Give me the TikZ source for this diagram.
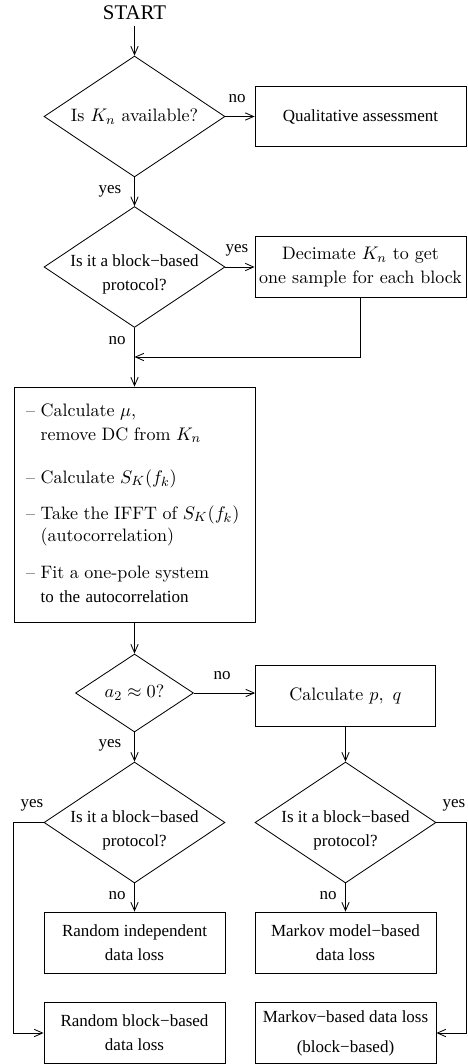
\documentclass[tikz,border=0pt]{standalone}
\usepackage{fontspec}
\newfontfamily\tms{Liberation Serif}
\usetikzlibrary{arrows.meta,shapes.geometric}
\newcommand\tmsz{\tms\fontsize{10.2}{14.5}\selectfont}
\newcommand\cmsz{\fontsize{10.8}{14}\selectfont}

\begin{document}
\begin{tikzpicture}[x=0.6pt,y=-0.6pt,line width=0.5pt,
  arr/.style={-{Straight Barb[length=5pt,width=4.4pt]}},
  box/.style={draw,inner sep=0pt,align=center,minimum width=108.6pt,minimum height=36.3pt},
  decision/.style={draw,diamond,inner sep=0pt,minimum width=108.6pt,minimum height=72.6pt},
  qtext/.style={font=\tmsz,align=center,inner sep=0pt},
  lbl/.style={font=\tmsz,inner sep=1pt}]
\useasboundingbox (0,0) rectangle (468,1064);
\node[font=\tms\fontsize{12.5}{14}\selectfont] (start) at (134.5,13) {START};
% first checks
\node[decision] (q1) at (134.5,116.5) {};
\node[font=\cmsz,inner sep=0pt] (q1t) at (q1.center) {Is $K_n$ available?};
\node[box,font=\tmsz,minimum width=126.6pt] (qual) at (360.5,116.5) {Qualitative assessment};
\node[decision] (q2) at (134.5,267) {};
\node[qtext] (q2t) at ([yshift=-4.5pt]q2.center) {Is it a block−based\\protocol?};
\node[box,font=\cmsz,minimum width=126.6pt] (dec) at (360.5,267) {Decimate $K_n$ to get\\one sample for each block};
\coordinate (join) at (134.5,357);
% processing steps
\node[box,minimum width=144.6pt,minimum height=141pt,text width=130.2pt,align=left] (calc) at (134.5,504.5) {\cmsz
\begin{tabular}{@{}l@{}}
– Calculate $\mu$,\\[0.4pt]
\phantom{–} remove DC from $K_n$\\[11.8pt]
– Calculate $S_K(f_k)$\\[7.6pt]
– Take the IFFT of $S_K(f_k)$\\[-0.8pt]
\phantom{–} (autocorrelation)\\[8.2pt]
– Fit a one-pole system\\[0.4pt]
\phantom{–} {\tmsz to the autocorrelation}
\end{tabular}};
\node[decision,minimum width=70.8pt,minimum height=46.8pt] (q3) at (134.5,693) {};
\node[font=\cmsz,inner sep=0pt] (q3t) at (q3.center) {$a_2\approx 0$?};
\node[box,font=\cmsz,minimum width=108pt,minimum height=36.6pt] (pq) at (345.5,695.5) {Calculate $p,\ q$};
% second checks
\node[decision] (q4) at (134.5,822.5) {};
\node[qtext] (q4t) at ([yshift=-4.5pt]q4.center) {Is it a block−based\\protocol?};
\node[decision] (q5) at (345.5,822.5) {};
\node[qtext] (q5t) at ([yshift=-4.5pt]q5.center) {Is it a block−based\\protocol?};
% outcomes
\node[box,font=\tmsz,minimum height=36.6pt] (rind) at (134.5,942.5) {Random independent\\data loss};
\node[box,font=\tmsz,minimum height=36.6pt] (mkv) at (345.5,942.5) {Markov model−based\\data loss};
\node[box,font=\tmsz] (rblk) at (134.5,1033) {Random block−based\\data loss};
\node[box,font=\tmsz] (mblk) at (345.5,1033) {Markov−based data loss\\[3.5pt](block−based)};
% labels
\node[lbl] (l1) at (237,99) {no};
\node[lbl] (l2) at (110,191) {yes};
\node[lbl] (l3) at (237,250) {yes};
\node[lbl] (l4) at (117,341) {no};
\node[lbl] (l5) at (222,676) {no};
\node[lbl] (l6) at (110,745) {yes};
\node[lbl] (l7) at (32,805) {yes};
\node[lbl] (l8) at (454,805) {yes};
\node[lbl] (l9) at (117,896) {no};
\node[lbl] (l10) at (328,896) {no};
% connectors
\draw[arr] (start) -- (q1);
\draw[arr] (q1) -- (qual);
\draw[arr] (q1) -- (q2);
\draw[arr] (q2) -- (dec);
\draw[arr] (q2) -- (calc);
\draw[arr] (dec.south) |- (join);
\draw[arr] (calc) -- (q3);
\draw[arr] (q3.east) -- (q3.east -| pq.west);
\draw[arr] (q3) -- (q4);
\draw[arr] (pq) -- (q5);
\draw[arr] (q4) -- (rind);
\draw[arr] (q5) -- (mkv);
\draw[arr] (q4.west) -- ++(-30,0) |- (rblk.west);
\draw[arr] (q5.east) -- ++(30,0) |- (mblk.east);
\end{tikzpicture}
\end{document}
